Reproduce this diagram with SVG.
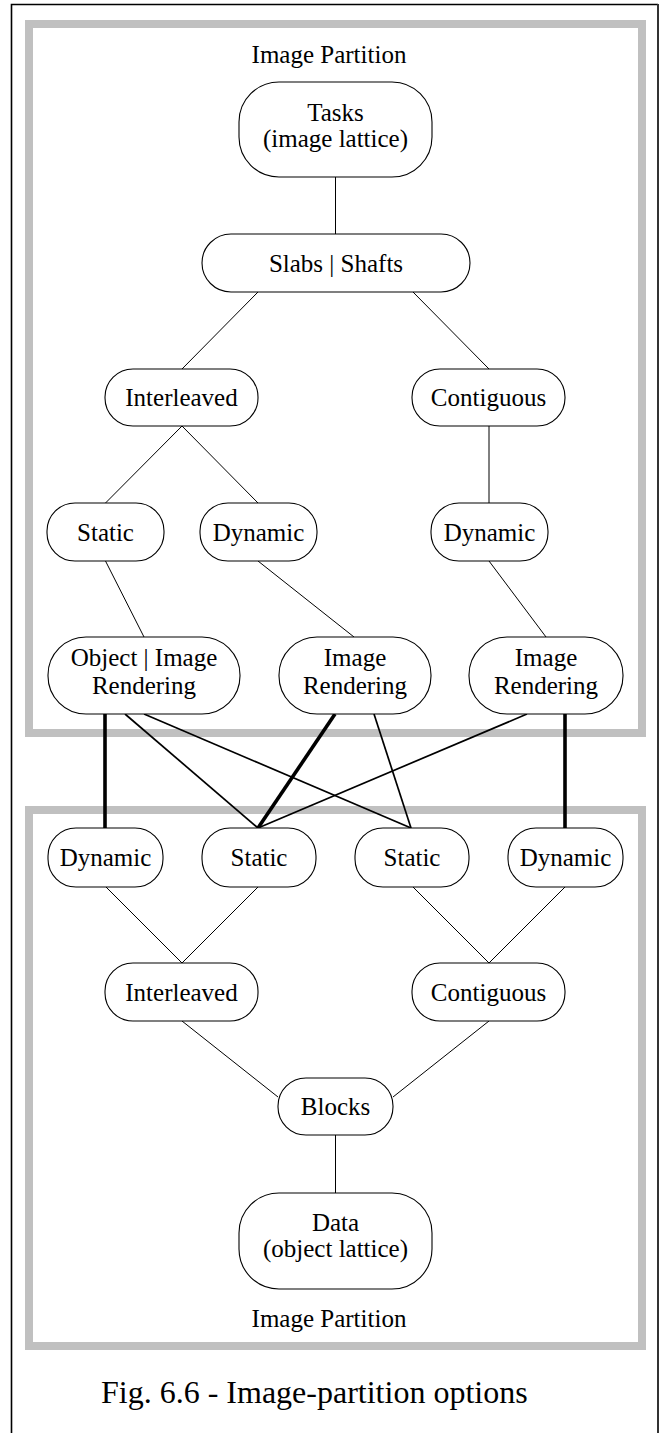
<svg xmlns="http://www.w3.org/2000/svg" width="659" height="1433" viewBox="0 0 659 1433">
<style>
.frame{fill:none;stroke:#c0c0c0;stroke-width:8}
.node rect{fill:#fff;stroke:#000;stroke-width:1.1}
text{font-family:"Liberation Serif","Times New Roman",serif;font-size:25px;fill:#000;text-anchor:middle}
.thin{stroke:#000;stroke-width:1;fill:none}
.med{stroke:#000;stroke-width:1.7;fill:none}
.thick{stroke:#000;stroke-width:3.6;fill:none}
</style>
<rect width="659" height="1433" fill="#fff"/>
<g id="border" stroke="#000" fill="none">
<path d="M11.5 1433 V4.5 H658" stroke-width="1.6"/>
<line x1="658" y1="4" x2="658" y2="1433" stroke-width="2" stroke="#333"/>
</g>
<g id="frames">
<rect class="frame" x="29" y="24" width="613" height="709"/>
<rect class="frame" x="29" y="810" width="613" height="536"/>
<text x="329" y="63">Image Partition</text>
<text x="329" y="1327">Image Partition</text>
</g>
<g id="connectors">
<line class="thin" x1="335.5" y1="177" x2="335.5" y2="234"/>
<line class="thin" x1="258" y1="292" x2="182" y2="369"/>
<line class="thin" x1="413" y1="292" x2="489" y2="369"/>
<line class="thin" x1="182" y1="426" x2="105.5" y2="503"/>
<line class="thin" x1="182" y1="426" x2="258" y2="503"/>
<line class="thin" x1="489" y1="426" x2="489" y2="503"/>
<line class="thin" x1="105.5" y1="561" x2="144" y2="637"/>
<line class="thin" x1="258" y1="561" x2="354" y2="637"/>
<line class="thin" x1="489" y1="561" x2="546" y2="637"/>
<line class="thick" x1="105" y1="714" x2="105" y2="828"/>
<line class="med" x1="125" y1="714" x2="258" y2="828"/>
<line class="med" x1="144" y1="714" x2="411" y2="828"/>
<line class="thick" x1="335" y1="714" x2="258" y2="828"/>
<line class="med" x1="374" y1="714" x2="411" y2="828"/>
<line class="med" x1="527" y1="714" x2="258" y2="828"/>
<line class="thick" x1="565" y1="714" x2="565" y2="828"/>
<line class="thin" x1="106" y1="887" x2="182" y2="963"/>
<line class="thin" x1="258" y1="887" x2="182" y2="963"/>
<line class="thin" x1="413" y1="887" x2="489" y2="963"/>
<line class="thin" x1="565" y1="887" x2="489" y2="963"/>
<line class="thin" x1="182" y1="1021" x2="278" y2="1097"/>
<line class="thin" x1="489" y1="1021" x2="393" y2="1097"/>
<line class="thin" x1="335.5" y1="1135" x2="335.5" y2="1193"/>
</g>
<g id="n-tasks" class="node"><rect x="239" y="82" width="193" height="95" rx="40"/><text x="335.5" y="121">Tasks</text><text x="335.5" y="147">(image lattice)</text></g>
<g id="n-slabs" class="node"><rect x="202" y="234" width="268" height="58" rx="29"/><text x="336" y="272">Slabs | Shafts</text></g>
<g id="n-interleaved-top" class="node"><rect x="105" y="369" width="153" height="57" rx="28"/><text x="181.5" y="406">Interleaved</text></g>
<g id="n-contiguous-top" class="node"><rect x="412" y="369" width="153" height="57" rx="28"/><text x="488.5" y="406">Contiguous</text></g>
<g id="n-static-top" class="node"><rect x="47" y="503" width="117" height="58" rx="28"/><text x="105.5" y="541">Static</text></g>
<g id="n-dynamic-top1" class="node"><rect x="200" y="503" width="117" height="58" rx="28"/><text x="258.5" y="541">Dynamic</text></g>
<g id="n-dynamic-top2" class="node"><rect x="431" y="503" width="117" height="58" rx="28"/><text x="489.5" y="541">Dynamic</text></g>
<g id="n-render1" class="node"><rect x="48" y="637" width="192" height="77" rx="38"/><text x="144" y="666">Object | Image</text><text x="144" y="694">Rendering</text></g>
<g id="n-render2" class="node"><rect x="279" y="637" width="152" height="77" rx="38"/><text x="355" y="666">Image</text><text x="355" y="694">Rendering</text></g>
<g id="n-render3" class="node"><rect x="469" y="637" width="154" height="77" rx="38"/><text x="546" y="666">Image</text><text x="546" y="694">Rendering</text></g>
<g id="n-dynamic-b1" class="node"><rect x="48" y="828" width="115" height="59" rx="28"/><text x="105.5" y="866">Dynamic</text></g>
<g id="n-static-b1" class="node"><rect x="202" y="828" width="114" height="59" rx="28"/><text x="259" y="866">Static</text></g>
<g id="n-static-b2" class="node"><rect x="355" y="828" width="114" height="59" rx="28"/><text x="412" y="866">Static</text></g>
<g id="n-dynamic-b2" class="node"><rect x="508" y="828" width="115" height="59" rx="28"/><text x="565.5" y="866">Dynamic</text></g>
<g id="n-interleaved-b" class="node"><rect x="105" y="963" width="153" height="58" rx="28"/><text x="181.5" y="1001">Interleaved</text></g>
<g id="n-contiguous-b" class="node"><rect x="412" y="963" width="153" height="58" rx="28"/><text x="488.5" y="1001">Contiguous</text></g>
<g id="n-blocks" class="node"><rect x="278" y="1078" width="115" height="57" rx="28"/><text x="335.5" y="1115">Blocks</text></g>
<g id="n-data" class="node"><rect x="239" y="1193" width="193" height="96" rx="40"/><text x="335.5" y="1231">Data</text><text x="335.5" y="1257">(object lattice)</text></g>
<text id="caption" x="101" y="1403" style="font-size:32px;text-anchor:start">Fig. 6.6 - Image-partition options</text>
</svg>
